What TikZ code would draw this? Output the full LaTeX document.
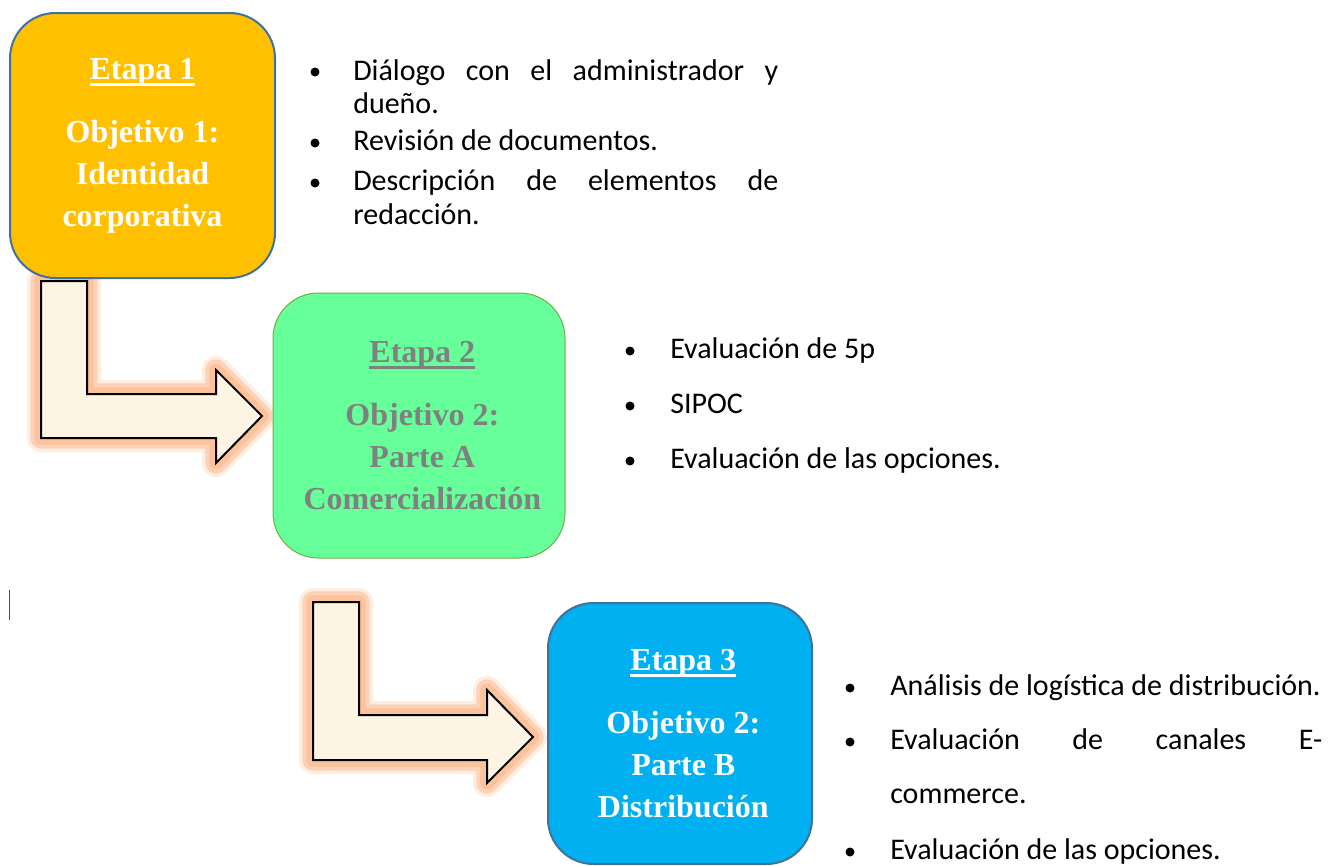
\documentclass[tikz,border=0pt]{standalone}
\usepackage{fontspec}
\setmainfont{Carlito}
\newfontfamily\boxfont{Liberation Serif}
\usepackage{tikz}

\definecolor{etapaA}{HTML}{FFC000}
\definecolor{etapaB}{HTML}{66FF99}
\definecolor{etapaC}{HTML}{00B0F0}
\definecolor{bordeazul}{HTML}{41719C}
\definecolor{bordeverde}{HTML}{70AD47}
\definecolor{crema}{HTML}{FEF4E4}
\definecolor{brillo}{HTML}{FBC29C}
\definecolor{gris}{HTML}{808080}

\newcommand\subrayar[1]{\begingroup\setbox0\hbox{#1}\rlap{\rule[-5pt]{\wd0}{2pt}}\box0\endgroup}

\begin{document}
\begin{tikzpicture}[x=0.75pt,y=-0.75pt]
\tikzset{
  etapa/.style={draw, line width=1.5pt, rounded corners=34pt, align=center, inner sep=0pt,
    minimum width=198.75pt, minimum height=198.75pt,
    font=\boxfont\bfseries\fontsize{24}{31.5}\selectfont},
  punto/.style={circle, fill=black, inner sep=0pt, minimum size=6.75pt},
  item/.style={anchor=base west, inner sep=0pt, font=\fontsize{22.5}{27}\selectfont},
  flecha/.style={
    preaction={draw=brillo, line width=21pt, opacity=.3, line join=round},
    preaction={draw=brillo, line width=16pt, opacity=.6, line join=round},
    preaction={draw=brillo, line width=10pt, line join=round},
    fill=crema, draw=black, line width=1.5pt, line join=miter}
}
\useasboundingbox (0,0) rectangle (1336,865);

% flechas
\draw [flecha] (41,281) -- (87,281) -- (87,394) -- (216,394) -- (216,370) -- (262,416)
  -- (216,463) -- (216,438) -- (41,438) -- cycle;
\draw [flecha] (313,602) -- (359,602) -- (359,715) -- (487,715) -- (487,690) -- (533,737)
  -- (487,783) -- (487,760) -- (313,760) -- cycle;

% etapas
\node [etapa, fill=etapaA, draw=bordeazul, text=white] (e1) at (142.5,145.5)
  {\subrayar{Etapa 1}\\[15.75pt] Objetivo 1:\\ Identidad\\ corporativa};
\node [etapa, fill=etapaB, draw=bordeverde, line width=0.75pt, text=gris,
  minimum width=219pt] (e2) at (419,425.5)
  {\hspace*{5pt}\subrayar{Etapa 2}\\[15.75pt] \hspace*{5pt}Objetivo 2:\\ \hspace*{5pt}Parte A\\ \hspace*{5pt}Comercialización};
\node [etapa, fill=etapaC, draw=bordeazul, text=white, minimum width=198pt,
  minimum height=195.75pt] (e3) at (680,733.5)
  {\hspace*{5pt}\subrayar{Etapa 3}\\[15.75pt] \hspace*{5pt}Objetivo 2:\\ \hspace*{5pt}Parte B\\ \hspace*{5pt}Distribución};

% lista 1
\node [punto] (p11) at (315,72) {};
\node [item] (t11) at (353,80) {\makebox[318.75pt][s]{Diálogo con el administrador y}};
\node [item] (t12) at (353,113) {dueño.};
\node [punto] (p12) at (315,143) {};
\node [item] (t13) at (353,150) {Revisión de documentos.};
\node [punto] (p13) at (315,183) {};
\node [item] (t14) at (353,190) {\makebox[318.75pt][s]{Descripción de elementos de}};
\node [item] (t15) at (353,224) {redacción.};

% lista 2
\node [punto] (p21) at (630,351) {};
\node [item] (t21) at (670,358) {Evaluación de 5p};
\node [punto] (p22) at (630,406) {};
\node [item] (t22) at (670,413) {SIPOC};
\node [punto] (p23) at (630,461) {};
\node [item] (t23) at (670,468) {Evaluación de las opciones.};

% lista 3
\node [punto] (p31) at (850,688) {};
\node [item] (t31) at (890,695) {Análisis de logística de distribución.};
\node [punto] (p32) at (850,742) {};
\node [item] (t32) at (890,749) {\makebox[324pt][s]{Evaluación de canales E-}};
\node [item] (t33) at (890,803) {commerce.};
\node [punto] (p33) at (850,852) {};
\node [item] (t34) at (890,859) {Evaluación de las opciones.};

% cursor
\draw [black!70, line width=0.75pt] (9,590) -- (9,620);
\end{tikzpicture}
\end{document}
